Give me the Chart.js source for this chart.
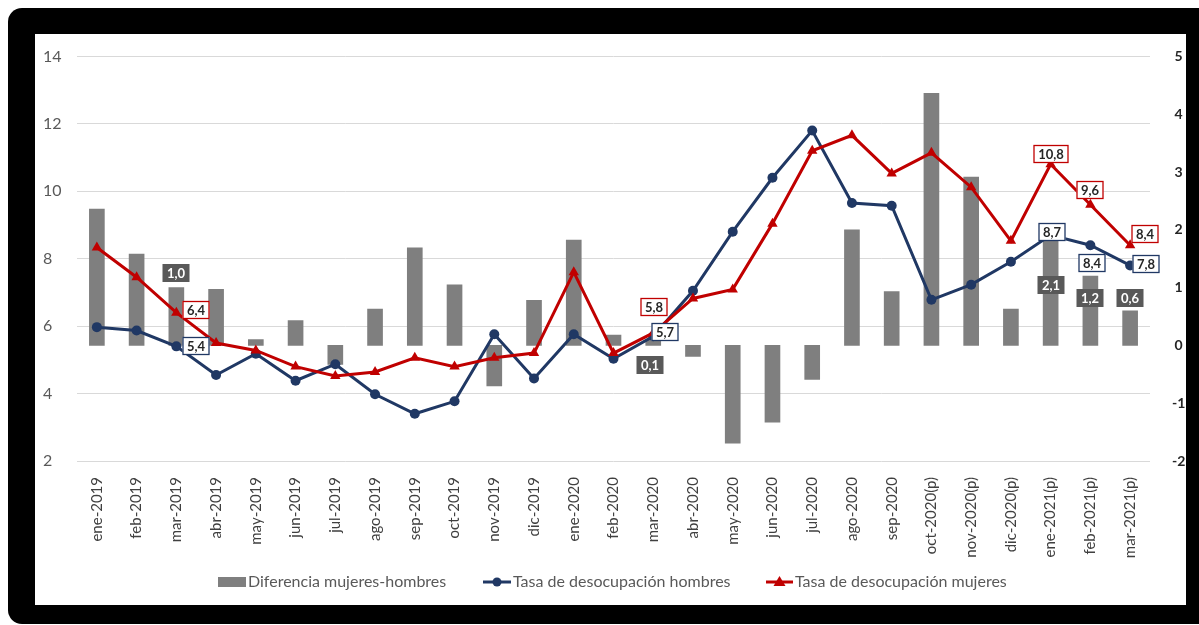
<!DOCTYPE html>
<html><head><meta charset="utf-8">
<script src="https://cdn.jsdelivr.net/npm/chart.js@4"></script>
<style>
html,body{margin:0;padding:0;background:#fff;width:1199px;height:625px;overflow:hidden;}
#frame{position:absolute;left:8px;top:8px;width:1220px;height:616px;background:#000;border-radius:14px;}
#inner{position:absolute;left:35px;top:34px;width:1151px;height:571px;background:#fff;}
canvas{display:block;}
</style></head><body>
<div id="frame"></div>
<div id="inner"><canvas id="c" width="1151" height="571"></canvas></div>
<script>
const categories = ['ene-2019','feb-2019','mar-2019','abr-2019','may-2019','jun-2019','jul-2019','ago-2019','sep-2019','oct-2019','nov-2019','dic-2019','ene-2020','feb-2020','mar-2020','abr-2020','may-2020','jun-2020','jul-2020','ago-2020','sep-2020','oct-2020(p)','nov-2020(p)','dic-2020(p)','ene-2021(p)','feb-2021(p)','mar-2021(p)'];
const diffValues = [2.36,1.58,1.0,0.97,0.1,0.43,-0.33,0.63,1.69,1.05,-0.70,0.78,1.82,0.18,0.1,-0.19,-1.69,-1.33,-0.59,2.0,0.93,4.36,2.91,0.63,2.1,1.2,0.6];
const menRates = [5.97,5.87,5.4,4.55,5.18,4.38,4.87,3.98,3.4,3.77,5.76,4.45,5.76,5.03,5.7,7.05,8.8,10.4,11.8,9.65,9.57,6.78,7.23,7.91,8.7,8.4,7.8];
const womenRates = [8.33,7.45,6.4,5.5,5.28,4.8,4.52,4.64,5.06,4.8,5.06,5.2,7.6,5.2,5.8,6.82,7.09,9.04,11.2,11.66,10.53,11.14,10.12,8.53,10.8,9.6,8.4];
const leftAxisTicks = [2,4,6,8,10,12,14];
const rightAxisTicks = [-2,-1,0,1,2,3,4,5];
const seriesNames = ['Diferencia mujeres-hombres','Tasa de desocupación hombres','Tasa de desocupación mujeres'];

// label placement (style): dataset index, point index, pixel offsets
const labelSpecs = [
  {set:0,i:2,dx:0,dy:-15},{set:0,i:14,dx:-3,dy:25},{set:0,i:24,dx:0,dy:61},{set:0,i:25,dx:0,dy:22},{set:0,i:26,dx:0,dy:-13},
  {set:1,i:2,dx:20,dy:0},{set:1,i:14,dx:12,dy:-4},{set:1,i:24,dx:1,dy:-3},{set:1,i:25,dx:2,dy:18},{set:1,i:26,dx:16,dy:-1},
  {set:2,i:2,dx:20,dy:-3},{set:2,i:14,dx:1,dy:-26},{set:2,i:24,dx:0,dy:-10},{set:2,i:25,dx:0,dy:-15},{set:2,i:26,dx:15,dy:-11}
];
const NAVY='#203864', RED='#c00000', GRAY='#7f7f7f';
const FONT='Lato';

const labelPlugin = {
  id:'labels',
  afterDatasetsDraw(chart){
    const ctx = chart.ctx;
    ctx.save();
    ctx.font = 'bold 13px '+FONT;
    ctx.textAlign='center'; ctx.textBaseline='middle';
    labelSpecs.forEach(s=>{
      const el = chart.getDatasetMeta(s.set).data[s.i];
      const val = chart.data.datasets[s.set].data[s.i];
      const txt = val.toFixed(1).replace('.',',');
      const w = Math.round(ctx.measureText(txt).width + 9), h = 18;
      const cx = Math.round(el.x + s.dx), cy = Math.round(el.y + s.dy);
      const x0 = cx - w/2, y0 = cy - h/2;
      if (s.set===0){
        ctx.fillStyle='#595959'; ctx.fillRect(x0,y0,w,h);
        ctx.fillStyle='#ffffff';
      } else {
        ctx.fillStyle='#ffffff'; ctx.fillRect(x0,y0,w,h);
        ctx.lineWidth=1.3; ctx.strokeStyle = s.set===1?NAVY:RED;
        ctx.strokeRect(x0+0.5,y0+0.5,w-1,h-1);
        ctx.fillStyle='#262626';
      }
      ctx.fillText(txt,cx,cy+0.5);
    });
    ctx.restore();
  },
  afterDraw(chart){
    const ctx = chart.ctx;
    ctx.save();
    const y = 548;
    ctx.font = '16px '+FONT; ctx.textBaseline='middle'; ctx.textAlign='left';
    ctx.fillStyle=GRAY; ctx.fillRect(183,y-5,28,10);
    ctx.fillStyle='#595959'; ctx.fillText(seriesNames[0],213,y);
    ctx.strokeStyle=NAVY; ctx.lineWidth=3; ctx.beginPath(); ctx.moveTo(448,y); ctx.lineTo(476,y); ctx.stroke();
    ctx.fillStyle=NAVY; ctx.beginPath(); ctx.arc(462,y,4.5,0,Math.PI*2); ctx.fill();
    ctx.fillStyle='#595959'; ctx.fillText(seriesNames[1],478,y);
    ctx.strokeStyle=RED; ctx.beginPath(); ctx.moveTo(731,y); ctx.lineTo(758,y); ctx.stroke();
    ctx.fillStyle=RED; ctx.beginPath(); ctx.moveTo(744.5,y-6); ctx.lineTo(750.5,y+4); ctx.lineTo(738.5,y+4); ctx.closePath(); ctx.fill();
    ctx.fillStyle='#595959'; ctx.fillText(seriesNames[2],760,y);
    ctx.restore();
  }
};

new Chart(document.getElementById('c'), {
  data:{
    labels: categories,
    datasets:[
      {type:'bar', label:seriesNames[0], data:diffValues, yAxisID:'y1', backgroundColor:GRAY, barThickness:15, order:3},
      {type:'line', label:seriesNames[1], data:menRates, yAxisID:'y', borderColor:NAVY, backgroundColor:NAVY, borderWidth:3, pointRadius:5, pointStyle:'circle', pointBorderWidth:0, tension:0, order:2},
      {type:'line', label:seriesNames[2], data:womenRates, yAxisID:'y', borderColor:RED, backgroundColor:RED, borderWidth:3, pointRadius:6, pointStyle:'triangle', pointBorderWidth:0, tension:0, order:1}
    ]
  },
  options:{
    responsive:false, animation:false,
    layout:{padding:{left:8,top:18,right:0,bottom:34}},
    plugins:{legend:{display:false}, tooltip:{enabled:false}},
    scales:{
      x:{
        offset:true,
        grid:{display:false}, border:{display:false},
        ticks:{minRotation:90,maxRotation:90,autoSkip:false,padding:8,color:'#404040',font:{family:FONT,size:15}},
        afterFit(s){ s.height = 110; }
      },
      y:{
        position:'left', min:2, max:14,
        afterBuildTicks(s){ s.ticks = leftAxisTicks.map(v=>({value:v})); },
        grid:{color:'#d9d9d9', lineWidth:1, drawTicks:false}, border:{display:false},
        ticks:{crossAlign:'far', padding:0, color:'#595959', font:{family:FONT,size:16}},
        afterFit(s){ s.width = 34; }
      },
      y1:{
        position:'right', min:-2, max:5,
        afterBuildTicks(s){ s.ticks = rightAxisTicks.map(v=>({value:v})); },
        grid:{display:false}, border:{display:false},
        ticks:{crossAlign:'center', padding:14, color:'#262626', font:{family:FONT,size:14,weight:'bold'}},
        afterFit(s){ s.width = 36; }
      }
    }
  },
  plugins:[labelPlugin]
});
</script>
</body></html>
